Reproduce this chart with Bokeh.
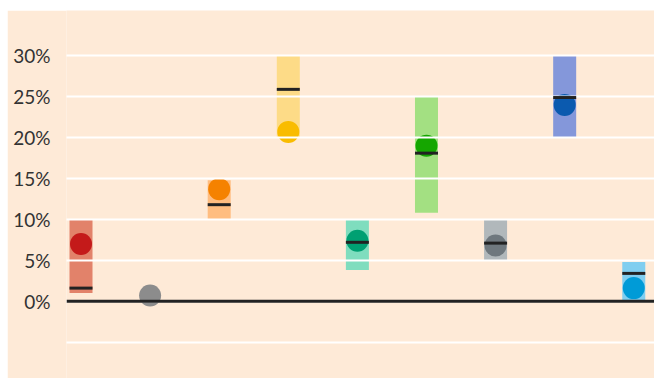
import math
from bokeh.plotting import figure
from bokeh.models import ColumnDataSource, Range1d, FixedTicker, Span
from bokeh.embed import file_html
from bokeh.resources import INLINE

nan = float("nan")

categories = ["c1", "c2", "c3", "c4", "c5", "c6", "c7", "c8", "c9"]
range_low = [1.0, nan, 10.0, 20.0, 3.8, 10.8, 5.0, 20.0, 0.0]
range_high = [10.0, nan, 14.8, 30.0, 10.0, 25.0, 10.0, 30.0, 4.8]
marker_values = [1.6, nan, 11.8, 25.9, 7.2, 18.1, 7.1, 24.9, 3.4]
point_values = [7.0, 0.7, 13.7, 20.7, 7.4, 19.0, 6.8, 24.0, 1.6]
bar_colors = ["#E2826A", "#FFFFFF", "#FFBD80", "#FDDB87", "#7FDDBE",
              "#A3E082", "#B1B8BB", "#8497DA", "#80CEF0"]
point_colors = ["#C41A1A", "#8C8C8C", "#F58200", "#F9BC00", "#00A072",
                "#15A600", "#6F787E", "#0B5AAF", "#009BD7"]
tick_values = [-5, 0, 5, 10, 15, 20, 25, 30]

xs = list(range(len(categories)))
src = ColumnDataSource(dict(
    x=xs, cat=categories, low=range_low, high=range_high,
    mk=marker_values, pt=point_values, bc=bar_colors, pc=point_colors,
))

BG = "#FEEAD7"
p = figure(width=647, height=368, output_backend="svg", toolbar_location=None,
           x_range=Range1d(-0.21, 8.30), y_range=Range1d(-9.45, 35.54),
           background_fill_color=BG, border_fill_color=BG,
           min_border_left=59, min_border_right=0, min_border_top=0,
           min_border_bottom=0)
p.margin = (10, 0, 0, 7)
p.outline_line_color = None
p.xaxis.visible = False

bars = p.vbar(x="x", bottom="low", top="high", width=0.333, fill_color="bc",
              line_color=None, source=src)
pts = p.scatter(x="x", y="pt", size=22, marker="circle", fill_color="pc",
                line_color=None, source=src)

p.xgrid.visible = False
p.ygrid.ticker = FixedTicker(ticks=tick_values)
p.ygrid.grid_line_color = "white"
p.ygrid.grid_line_width = 2
p.ygrid.level = "guide"

zero = Span(location=0, dimension="width", line_color="#222222", line_width=3,
            level="annotation")
p.add_layout(zero)

mk = p.rect(x="x", y="mk", width=0.333, height=3, height_units="screen",
            fill_color="#222222", line_color=None, source=src)
mk.level = "annotation"

ax = p.yaxis[0]
ax.ticker = FixedTicker(ticks=tick_values)
ax.major_label_overrides = {v: ("" if v < 0 else f"{v}%") for v in tick_values}
ax.axis_line_color = None
ax.major_tick_line_color = None
ax.minor_tick_line_color = None
ax.major_label_standoff = 10
ax.major_label_text_font = "Lato"
ax.major_label_text_font_size = "19px"
ax.major_label_text_color = "#333333"

open("out.html", "w").write(file_html(p, INLINE))
